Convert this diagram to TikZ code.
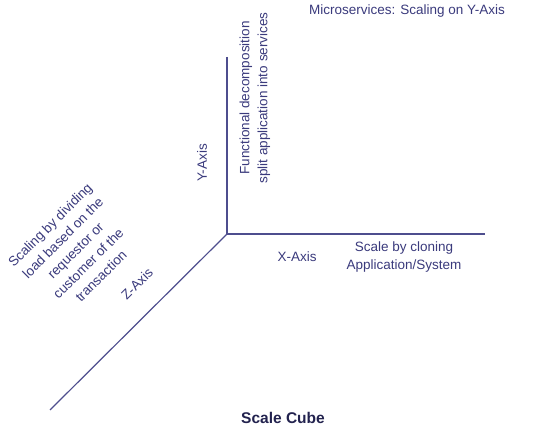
\documentclass[tikz,border=0pt]{standalone}
\usepackage{fontspec}
\setmainfont{Liberation Sans}
\usetikzlibrary{positioning}
\definecolor{axisblue}{HTML}{4E4E8E}
\definecolor{textblue}{HTML}{3A3A7C}
\definecolor{darkblue}{HTML}{22224E}

\begin{document}
\begin{tikzpicture}[x=1pt, y=1pt, thick,
                    axis/.style={draw=axisblue, line width=1.2pt},
                    label node/.style={text=textblue, font=\fontsize{13.5}{18}\selectfont, align=center, inner sep=0pt}]

  \useasboundingbox (0,0) rectangle (546,446);

  % the three axes
  \coordinate (o) at (227,212);
  \coordinate (y) at (227,389);
  \coordinate (x) at (485,212);
  \coordinate (z) at (50,36);

  \draw[axis] (y) -- (o) -- (x);
  \draw[axis] (o) -- (z);

  % labels
  \node[label node] (title) at (407,435) {Microservices: Scaling on Y-Axis};
  \node[label node, rotate=90] (ydesc) at (255,348) {Functional decomposition\\split application into services};
  \node[label node, rotate=90] (ylabel) at (202,283) {Y-Axis};
  \node[label node] (xlabel) at (297,189) {X-Axis};
  \node[label node] (xdesc) at (404,188.5) {Scale by cloning\\Application/System};
  \node[label node, rotate=45] (zlabel) at (137,162) {Z-Axis};
  \node[label node, rotate=45] (zdesc) at (75.5,195.5)
    {Scaling by dividing\\load based on the\\requestor or\\customer of the\\transaction};
  \node[text=darkblue, font=\fontsize{15.5}{18}\selectfont\bfseries] (caption) at (283,28) {Scale Cube};
\end{tikzpicture}
\end{document}
